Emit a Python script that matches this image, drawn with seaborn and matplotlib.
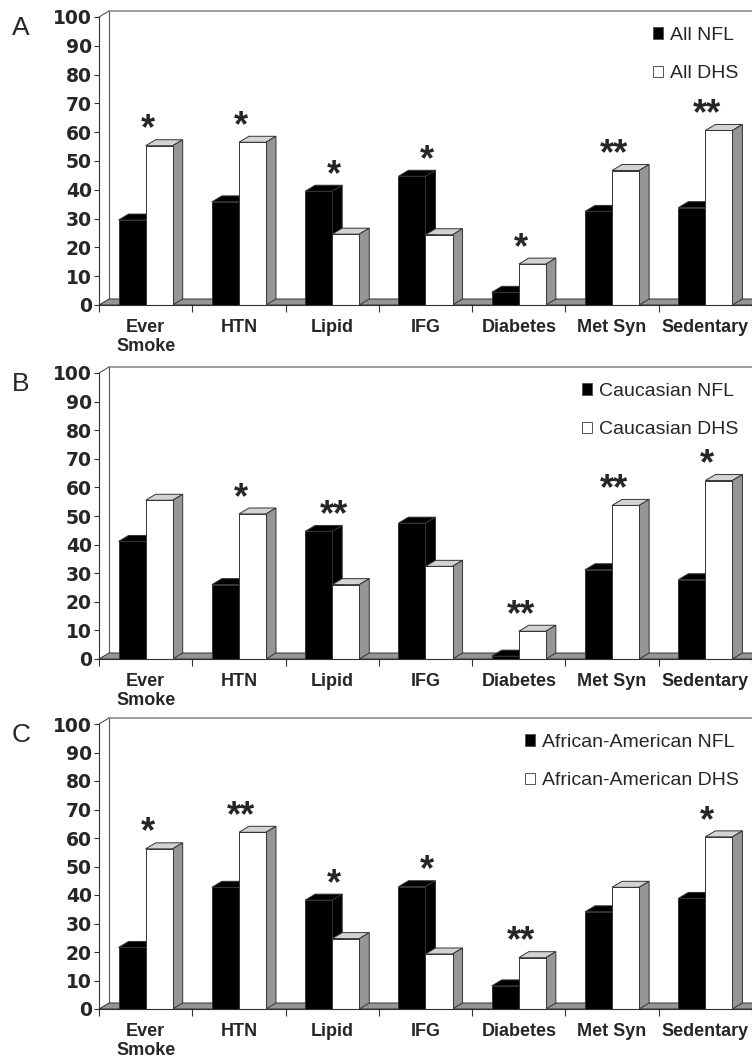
import matplotlib
matplotlib.use("Agg")
import matplotlib.pyplot as plt
import seaborn as sns
import pandas as pd
from matplotlib.patches import Polygon
from matplotlib.lines import Line2D

# ---------------- data ----------------
categories = ["Ever\nSmoke", "HTN", "Lipid", "IFG", "Diabetes", "Met Syn", "Sedentary"]

all_nfl = [29.5, 35.8, 39.5, 44.7, 4.4, 32.5, 33.8]
all_dhs = [55.3, 56.5, 24.6, 24.4, 14.2, 46.7, 60.6]
all_sig = ["*", "*", "*", "*", "*", "**", "**"]

cau_nfl = [41.1, 26.0, 44.6, 47.5, 1.0, 31.2, 27.7]
cau_dhs = [55.5, 50.7, 26.0, 32.4, 9.7, 53.7, 62.4]
cau_sig = ["", "*", "**", "", "**", "**", "*"]

aa_nfl = [21.6, 42.7, 38.2, 42.9, 8.1, 34.1, 38.8]
aa_dhs = [56.2, 62.0, 24.7, 19.3, 18.0, 42.7, 60.4]
aa_sig = ["*", "**", "*", "*", "**", "", "*"]

panel_letters = ["A", "B", "C"]
series_names = [("All NFL", "All DHS"),
                ("Caucasian NFL", "Caucasian DHS"),
                ("African-American NFL", "African-American DHS")]
nfl_values = [all_nfl, cau_nfl, aa_nfl]
dhs_values = [all_dhs, cau_dhs, aa_dhs]
significance = [all_sig, cau_sig, aa_sig]
yticks = list(range(0, 101, 10))

# ---------------- style ----------------
sns.set_style("white")
plt.rcParams["font.family"] = ["Liberation Sans", "DejaVu Sans"]

W, H = 752, 1059
fig = plt.figure(figsize=(W / 100, H / 100), dpi=100)

# axes rectangles in pixels: (y of value 0, y of value 100)
ax_pix = [(305, 17), (659, 373), (1009, 724)]
left_px, right_px = 99, 752
DX_PX, DY_PX = 10, 6

for k in range(3):
    y0, y1 = ax_pix[k]
    ax = fig.add_axes([left_px / W, 1 - y0 / H, (right_px - left_px) / W, (y0 - y1) / H])
    n1, n2 = series_names[k]
    df = pd.DataFrame({
        "category": categories * 2,
        "group": [n1] * len(categories) + [n2] * len(categories),
        "value": nfl_values[k] + dhs_values[k],
    })
    sns.barplot(data=df, x="category", y="value", hue="group",
                hue_order=[n1, n2], order=categories,
                palette={n1: "black", n2: "white"},
                width=0.58, dodge=True, edgecolor="#333333", linewidth=0.7,
                errorbar=None, ax=ax)
    ax.set_xlim(-0.5, len(categories) - 0.5)
    ax.set_ylim(0, 100)

    ppu_x = (right_px - left_px) / len(categories)
    ppu_y = (y0 - y1) / 100.0
    dx = DX_PX / ppu_x
    dy = DY_PX / ppu_y

    # floor
    floor = Polygon([(-0.5, 0), (len(categories), 0), (len(categories) + dx, dy), (-0.5 + dx, dy)],
                    closed=True, facecolor="#969696", edgecolor="#333333", lw=0.7,
                    zorder=1, clip_on=False)
    ax.add_patch(floor)
    # back wall lines
    ax.add_line(Line2D([-0.5 + dx, -0.5 + dx], [dy, 100 + dy], color="#555555", lw=0.8,
                       zorder=0.5, clip_on=False))
    ax.add_line(Line2D([-0.5 + dx, len(categories) + 1], [100 + dy, 100 + dy], color="#8c8c8c",
                       lw=1.2, zorder=0.5, clip_on=False))
    ax.add_line(Line2D([-0.5, -0.5 + dx], [100, 100 + dy], color="#555555", lw=0.8,
                       zorder=0.5, clip_on=False))

    # 3D faces
    for ci, cont in enumerate(ax.containers):
        dark = ci == 0
        for p in cont.patches:
            x0 = p.get_x()
            w = p.get_width()
            h = p.get_height()
            x1 = x0 + w
            p.set_zorder(3 if dark else 5)
            top = Polygon([(x0, h), (x1, h), (x1 + dx, h + dy), (x0 + dx, h + dy)], closed=True,
                          facecolor="black" if dark else "#d3d3d3", edgecolor="#333333",
                          lw=0.7, zorder=2 if dark else 4, clip_on=False)
            side = Polygon([(x1, 0), (x1, h), (x1 + dx, h + dy), (x1 + dx, dy)], closed=True,
                           facecolor="black" if dark else "#969696", edgecolor="#333333",
                           lw=0.7, zorder=2 if dark else 4, clip_on=False)
            ax.add_patch(top)
            ax.add_patch(side)

    # significance marks
    for i, s in enumerate(significance[k]):
        if s:
            m = max(nfl_values[k][i], dhs_values[k][i])
            ax.text(i + 0.02, m + 5.5, s, ha="center", va="center", fontsize=26,
                    fontweight="bold", family="Liberation Sans", zorder=6)

    # axes styling
    for sp in ["top", "right"]:
        ax.spines[sp].set_visible(False)
    for sp in ["left", "bottom"]:
        ax.spines[sp].set_color("#333333")
        ax.spines[sp].set_linewidth(0.8)
        ax.spines[sp].set_zorder(6)
    ax.set_yticks(yticks)
    ax.set_yticklabels([str(t) for t in yticks], fontsize=13.5, fontweight="bold",
                       family="DejaVu Sans")
    ax.tick_params(axis="y", direction="out", length=3.6, width=0.8, color="#333333",
                   pad=1.5, left=True)
    ax.set_xticks(range(len(categories)))
    ax.set_xticklabels(categories, fontsize=13, fontweight="bold", family="Liberation Sans")
    ax.tick_params(axis="x", which="major", length=0, pad=10)
    ax.set_xticks([i - 0.5 for i in range(len(categories) + 1)], minor=True)
    ax.tick_params(axis="x", which="minor", direction="out", length=5, width=0.8,
                   color="#333333", bottom=True)
    ax.set_xlabel("")
    ax.set_ylabel("")
    ax.grid(False)

    handles, labels = ax.get_legend_handles_labels()
    for hnd in handles:
        hnd.set_edgecolor("#555555")
    ax.legend(handles, labels, loc="upper right", bbox_to_anchor=(1.0, 1.013), frameon=False,
              fontsize=14, handlelength=0.5, handleheight=0.5, handletextpad=0.35,
              labelspacing=1.1, borderaxespad=0.3)

    fig.text(12 / W, 1 - (y1 - 1) / H, panel_letters[k], fontsize=19, va="top", ha="left")

fig.savefig("out.png", dpi=100)
